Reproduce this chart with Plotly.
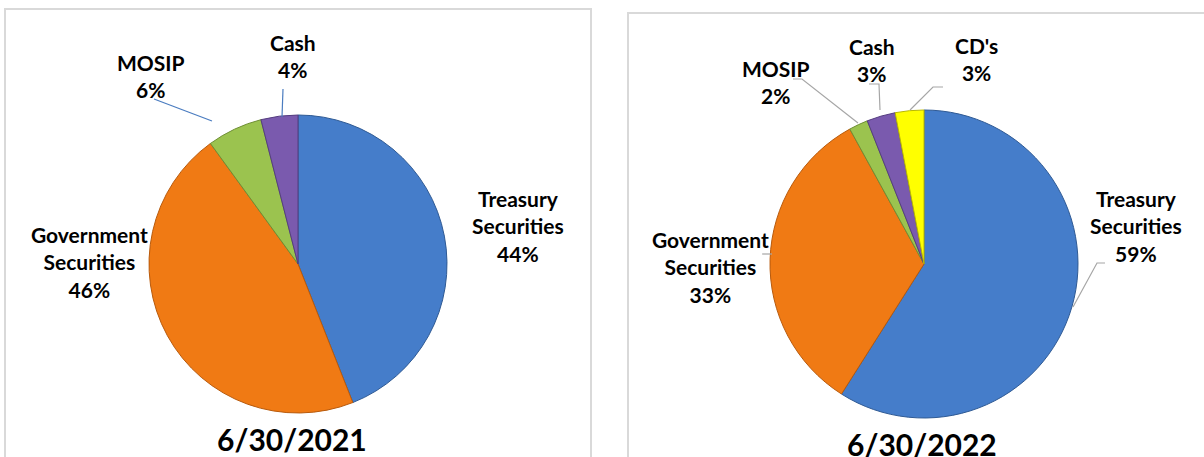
import plotly.graph_objects as go

W, H = 1204, 457

# ---- data ----
labels_2021 = ["Treasury Securities", "Government Securities", "MOSIP", "Cash"]
values_2021 = [44, 46, 6, 4]
labels_2022 = ["Treasury Securities", "Government Securities", "MOSIP", "Cash", "CD's"]
values_2022 = [59, 33, 2, 3, 3]
titles = ["6/30/2021", "6/30/2022"]

# ---- styles / layout positions (pixels) ----
colors = {"Treasury Securities": "#457dca", "Government Securities": "#f07a14",
          "MOSIP": "#9bc34f", "Cash": "#7a5aae", "CD's": "#ffff00"}
edge = {"Treasury Securities": "#2f5a94", "Government Securities": "#b85a0c",
        "MOSIP": "#6f8f35", "Cash": "#553d80", "CD's": "#b8b800"}

pie_geom = [(298, 264, 149), (924, 264, 154)]  # centre x, centre y, radius
label_pos_2021 = [(518, 225.5), (89, 262), (151, 76), (293, 56)]
label_pos_2022 = [(1136, 226), (710, 267), (776, 82), (872, 59.5), (976, 58.5)]
title_pos = [(292, 439), (922, 444)]

leaders_2021 = [None, None, [(154, 99), (212, 121)], [(283, 89), (282, 117)]]
leaders_2022 = [[(1105, 263), (1097, 263), (1073, 307)],
                [(762, 254), (772, 254)],
                [(793, 79), (802, 79), (858, 123)],
                [(869, 84), (879, 84), (880, 110)],
                [(943, 87), (933, 87), (910, 110)]]
leader_colors = ["#4a7cc0", "#a6a6a6"]

FONT = "Lato, 'Open Sans', sans-serif"


def px(x):
    return x / W


def py(y):
    return 1 - y / H


def fmt(lbl):
    return lbl.replace(" Securities", "<br>Securities")


fig = go.Figure()
annotations = []
shapes = []

panels = [(labels_2021, values_2021, label_pos_2021, leaders_2021),
          (labels_2022, values_2022, label_pos_2022, leaders_2022)]

for i, (labs, vals, lpos, leads) in enumerate(panels):
    cx, cy, r = pie_geom[i]
    fig.add_trace(go.Pie(
        labels=labs, values=vals, sort=False, direction="clockwise", rotation=0,
        marker=dict(colors=[colors[l] for l in labs],
                    line=dict(color=[edge[l] for l in labs], width=1)),
        textinfo="none", hoverinfo="label+percent", showlegend=False,
        domain=dict(x=[px(cx - r), px(cx + r)], y=[py(cy + r), py(cy - r)]),
    ))
    for lab, val, (lx, ly) in zip(labs, vals, lpos):
        annotations.append(dict(
            x=px(lx), y=py(ly), xref="paper", yref="paper",
            xanchor="center", yanchor="middle", showarrow=False,
            text=f"<b>{fmt(lab)}<br>{val}%</b>",
            font=dict(family=FONT, size=21, color="#000000"), align="center"))
    for seg in leads:
        if seg is None:
            continue
        path = "M " + " L ".join(f"{px(x)},{py(y)}" for x, y in seg)
        shapes.append(dict(type="path", path=path, xref="paper", yref="paper",
                           line=dict(color=leader_colors[i], width=1.2)))
    tx, ty = title_pos[i]
    annotations.append(dict(
        x=px(tx), y=py(ty), xref="paper", yref="paper", xanchor="center",
        yanchor="middle", showarrow=False, text=f"<b>{titles[i]}</b>",
        font=dict(family=FONT, size=30, color="#000000")))

# panel frames
frame = "#d9d9d9"
shapes += [
    dict(type="path", path=f"M {px(5)},{py(460)} L {px(5)},{py(9)} L {px(591)},{py(9)} L {px(591)},{py(460)}",
         xref="paper", yref="paper", line=dict(color=frame, width=2)),
    dict(type="path", path=f"M {px(628)},{py(460)} L {px(628)},{py(13)} L {px(1210)},{py(13)}",
         xref="paper", yref="paper", line=dict(color=frame, width=2)),
]

fig.update_layout(
    width=W, height=H, margin=dict(l=0, r=0, t=0, b=0),
    paper_bgcolor="white", plot_bgcolor="white",
    annotations=annotations, shapes=shapes,
)

fig.write_html("out.html")
